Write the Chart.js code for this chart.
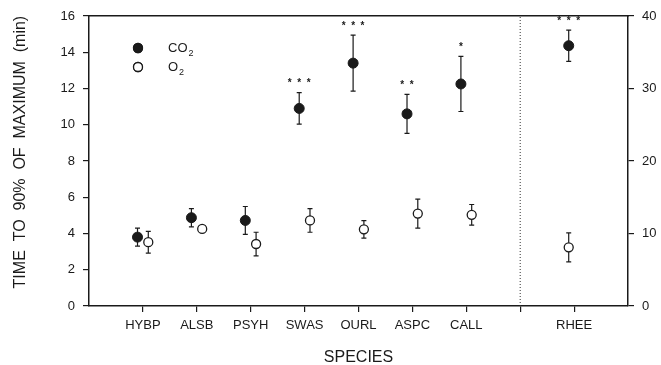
<!DOCTYPE html>
<html>
<head>
<meta charset="utf-8">
<script src="https://cdn.jsdelivr.net/npm/chart.js@4.4.1/dist/chart.umd.min.js"></script>
<style>
  html, body { margin: 0; padding: 0; background: #fff; }
  #wrap { width: 661px; height: 365px; }
</style>
</head>
<body>
<div id="wrap"><canvas id="chart" width="661" height="365"></canvas></div>
<script>
// species on the x axis, position 8 is the divider
const species = ['HYBP', 'ALSB', 'PSYH', 'SWAS', 'OURL', 'ASPC', 'CALL', 'RHEE'];
const speciesPos = [1, 2, 3, 4, 5, 6, 7, 9];
const dividerAt = 8;

// left axis group (min)
const co2Mean = [3.8, 4.87, 4.72, 10.9, 13.4, 10.6, 12.25];
const co2Err = [0.5, 0.5, 0.77, 0.87, 1.55, 1.08, 1.52];
const co2Stars = ['', '', '', '***', '***', '**', '*'];
const o2Mean = [3.52, 4.25, 3.42, 4.72, 4.23, 5.1, 5.03];
const o2Err = [0.6, 0.12, 0.65, 0.65, 0.48, 0.8, 0.57];

// RHEE on the right axis
const rheeCo2 = [35.9];
const rheeCo2Err = [2.15];
const rheeCo2Stars = ['***'];
const rheeO2 = [8.1];
const rheeO2Err = [2.0];

const leftTicks = [0, 2, 4, 6, 8, 10, 12, 14, 16];
const rightTicks = [0, 10, 20, 30, 40];

const offset = 0.1;
const ink = '#1a1a1a';
Chart.defaults.font.family = '"Liberation Sans", Arial, sans-serif';
Chart.defaults.color = ink;

function pts(pos, vals, dx) {
    return vals.map((v, i) => ({x: pos[i] + dx, y: v}));
}

// error bars and significance stars, drawn before the points
const errorBars = {
    id: 'errorBars',
    beforeDatasetsDraw(chart) {
        const ctx = chart.ctx;
        chart.data.datasets.forEach((ds, di) => {
            if (!ds.err) return;
            const xs = chart.scales.x;
            const ys = chart.scales[ds.yAxisID];
            ds.data.forEach((p, i) => {
                const x = xs.getPixelForValue(p.x);
                const top = ys.getPixelForValue(p.y + ds.err[i]);
                const bot = ys.getPixelForValue(p.y - ds.err[i]);
                ctx.save();
                ctx.strokeStyle = ink;
                ctx.lineWidth = 1.2;
                ctx.beginPath();
                ctx.moveTo(x, top); ctx.lineTo(x, bot);
                ctx.moveTo(x - 2.5, top); ctx.lineTo(x + 2.5, top);
                ctx.moveTo(x - 2.5, bot); ctx.lineTo(x + 2.5, bot);
                ctx.stroke();
                if (ds.stars && ds.stars[i]) {
                    ctx.fillStyle = ink;
                    ctx.font = 'bold 10px "Liberation Sans", Arial';
                    ctx.textAlign = 'center';
                    ctx.textBaseline = 'middle';
                    ctx.fillText(ds.stars[i].split('').join('  '), x, top - 9);
                }
                ctx.restore();
            });
        });
    }
};

// legend inside the plot, with subscript 2
const innerLegend = {
    id: 'innerLegend',
    afterDraw(chart) {
        const ctx = chart.ctx;
        const items = [
            {label: 'CO', fill: ink, y: 48},
            {label: 'O', fill: '#fff', y: 67}
        ];
        items.forEach(it => {
            ctx.save();
            ctx.fillStyle = it.fill;
            ctx.strokeStyle = ink;
            ctx.lineWidth = 1.3;
            Chart.helpers.drawPoint(ctx, {pointStyle: 'circle', radius: 4.5, borderWidth: 1.3}, 138, it.y);
            ctx.fill();
            ctx.stroke();
            ctx.fillStyle = ink;
            ctx.font = '13px "Liberation Sans", Arial';
            ctx.textBaseline = 'middle';
            ctx.textAlign = 'left';
            ctx.fillText(it.label, 168, it.y);
            const w = ctx.measureText(it.label).width;
            ctx.font = '9px "Liberation Sans", Arial';
            ctx.fillText('2', 168 + w + 1, it.y + 6);
            ctx.restore();
        });
    }
};

new Chart(document.getElementById('chart'), {
    type: 'scatter',
    data: {
        datasets: [
            {
                label: 'divider',
                type: 'line',
                data: [{x: dividerAt, y: 0}, {x: dividerAt, y: 16}],
                borderColor: '#333',
                borderWidth: 1,
                borderDash: [1, 2],
                pointRadius: 0,
                yAxisID: 'y'
            },
            {
                label: 'CO2',
                data: pts(speciesPos, co2Mean, -offset),
                err: co2Err, stars: co2Stars,
                backgroundColor: ink, borderColor: ink,
                pointRadius: 5, borderWidth: 1, yAxisID: 'y'
            },
            {
                label: 'O2',
                data: pts(speciesPos, o2Mean, offset),
                err: o2Err,
                backgroundColor: '#fff', borderColor: ink,
                pointRadius: 4.5, borderWidth: 1.3, yAxisID: 'y'
            },
            {
                label: 'CO2 RHEE',
                data: pts([speciesPos[7]], rheeCo2, -offset),
                err: rheeCo2Err, stars: rheeCo2Stars,
                backgroundColor: ink, borderColor: ink,
                pointRadius: 5, borderWidth: 1, yAxisID: 'y1'
            },
            {
                label: 'O2 RHEE',
                data: pts([speciesPos[7]], rheeO2, -offset),
                err: rheeO2Err,
                backgroundColor: '#fff', borderColor: ink,
                pointRadius: 4.5, borderWidth: 1.3, yAxisID: 'y1'
            }
        ]
    },
    options: {
        responsive: false,
        animation: false,
        layout: {padding: {top: 16, left: 0, right: 0, bottom: 0}},
        plugins: {legend: {display: false}, tooltip: {enabled: false}},
        scales: {
            x: {
                type: 'linear', min: 0, max: 10,
                afterBuildTicks: axis => {
                    axis.ticks = speciesPos.concat([dividerAt]).map(v => ({value: v}));
                },
                afterFit: s => { s.height = 59; },
                ticks: {
                    autoSkip: false, maxRotation: 0, padding: 6,
                    font: {size: 13},
                    callback: v => { const i = speciesPos.indexOf(v); return i < 0 ? '' : species[i]; }
                },
                grid: {drawOnChartArea: false, drawTicks: true, tickLength: 6, color: ink, lineWidth: 1.2},
                border: {color: ink, width: 1.5},
                title: {display: true, text: 'SPECIES', font: {size: 16}, padding: {top: 0, bottom: -2}}
            },
            xTop: {
                type: 'linear', position: 'top', min: 0, max: 10,
                afterFit: s => { s.height = 0; },
                ticks: {display: false},
                grid: {display: false},
                border: {color: ink, width: 1.5}
            },
            y: {
                min: 0, max: 16,
                afterBuildTicks: axis => { axis.ticks = leftTicks.map(v => ({value: v})); },
                afterFit: s => { s.width = 89; },
                ticks: {padding: 8, font: {size: 13}},
                grid: {drawOnChartArea: false, drawTicks: true, tickLength: 6, color: ink, lineWidth: 1.2},
                border: {color: ink, width: 1.5},
                title: {display: true, text: '    TIME  TO  90%  OF  MAXIMUM  (min)', font: {size: 16}, padding: {top: 11}}
            },
            y1: {
                position: 'right', min: 0, max: 40,
                afterBuildTicks: axis => { axis.ticks = rightTicks.map(v => ({value: v})); },
                afterFit: s => { s.width = 33; },
                ticks: {padding: 8, font: {size: 13}},
                grid: {drawOnChartArea: false, drawTicks: true, tickLength: 6, color: ink, lineWidth: 1.2},
                border: {color: ink, width: 1.5}
            }
        }
    },
    plugins: [errorBars, innerLegend]
});
</script>
</body>
</html>
